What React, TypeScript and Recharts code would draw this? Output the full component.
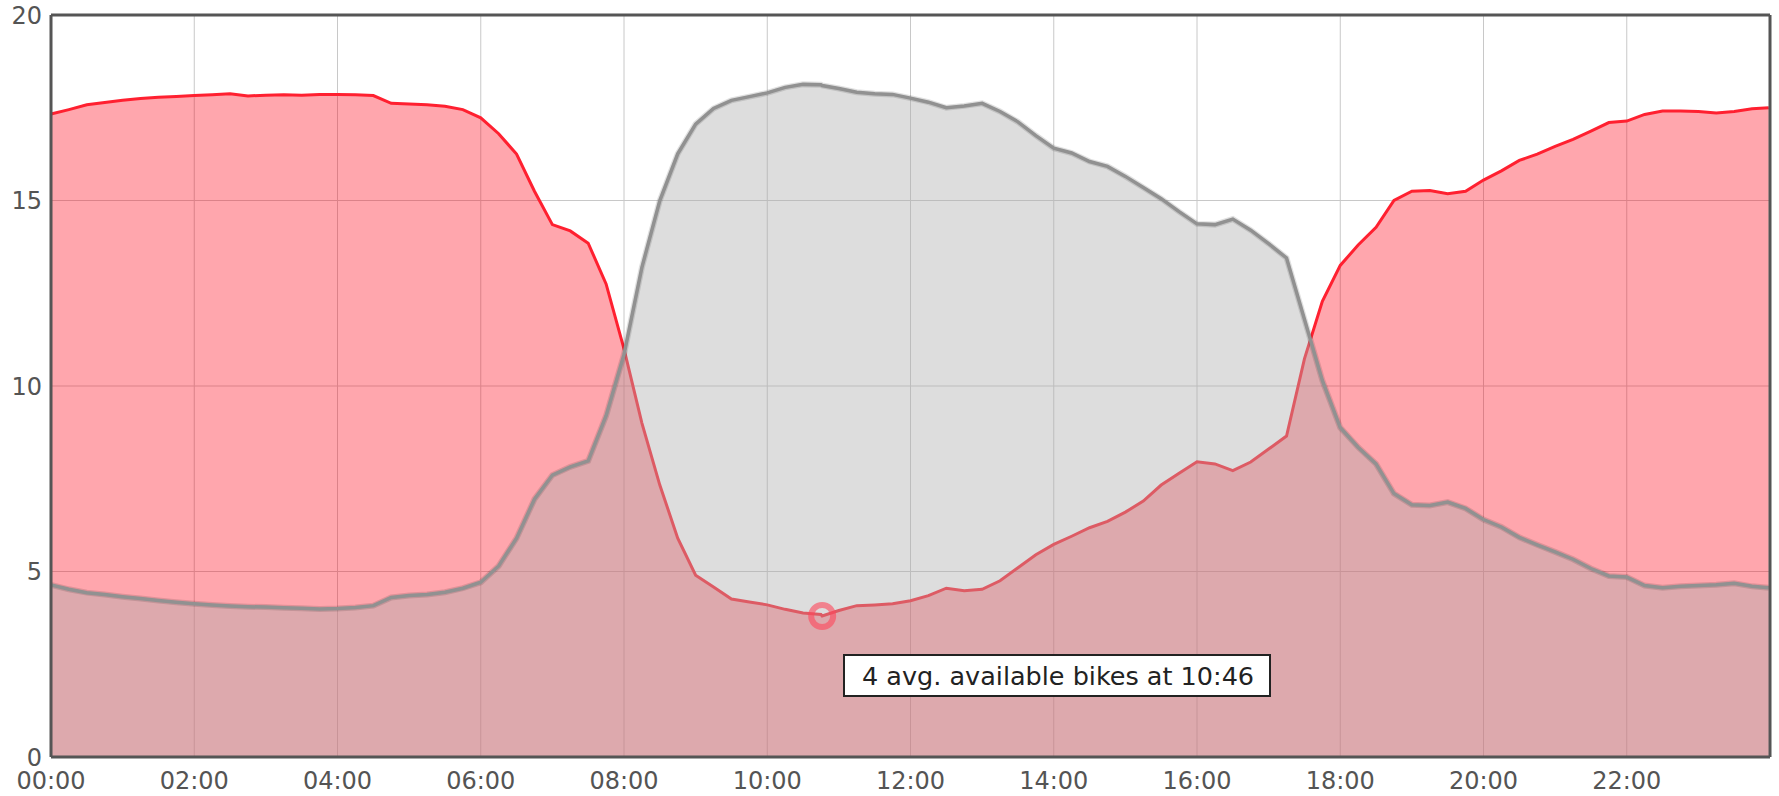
import { ComposedChart, Area, Line, XAxis, YAxis, CartesianGrid, Tooltip, ReferenceLine } from "recharts"

const times = [
  "00:00", "00:15", "00:30", "00:45", "01:00", "01:15", "01:30", "01:45",
  "02:00", "02:15", "02:30", "02:45", "03:00", "03:15", "03:30", "03:45",
  "04:00", "04:15", "04:30", "04:45", "05:00", "05:15", "05:30", "05:45",
  "06:00", "06:15", "06:30", "06:45", "07:00", "07:15", "07:30", "07:45",
  "08:00", "08:15", "08:30", "08:45", "09:00", "09:15", "09:30", "09:45",
  "10:00", "10:15", "10:30", "10:45", "10:46", "11:00", "11:15", "11:30", "11:45",
  "12:00", "12:15", "12:30", "12:45", "13:00", "13:15", "13:30", "13:45",
  "14:00", "14:15", "14:30", "14:45", "15:00", "15:15", "15:30", "15:45",
  "16:00", "16:15", "16:30", "16:45", "17:00", "17:15", "17:30", "17:45",
  "18:00", "18:15", "18:30", "18:45", "19:00", "19:15", "19:30", "19:45",
  "20:00", "20:15", "20:30", "20:45", "21:00", "21:15", "21:30", "21:45",
  "22:00", "22:15", "22:30", "22:45", "23:00", "23:15", "23:30", "23:45", "23:59",
]

// avg. available bikes (red)
const bikes = [
  17.33, 17.45, 17.58, 17.64, 17.7, 17.75, 17.78, 17.8,
  17.83, 17.85, 17.88, 17.82, 17.84, 17.85, 17.84, 17.86,
  17.86, 17.85, 17.83, 17.62, 17.6, 17.58, 17.54, 17.45,
  17.23, 16.8, 16.25, 15.25, 14.35, 14.18, 13.85, 12.75,
  11.0, 9.0, 7.33, 5.9, 4.9, 4.58, 4.26, 4.18,
  4.1, 3.98, 3.88, 3.84, 3.8, 3.95, 4.08, 4.1, 4.13,
  4.21, 4.35, 4.55, 4.48, 4.52, 4.75, 5.1, 5.45,
  5.73, 5.95, 6.18, 6.35, 6.6, 6.9, 7.33, 7.65,
  7.96, 7.9, 7.72, 7.95, 8.3, 8.65, 10.73, 12.28,
  13.25, 13.8, 14.28, 15.0, 15.25, 15.27, 15.18, 15.25,
  15.55, 15.8, 16.08, 16.25, 16.46, 16.65, 16.87, 17.1,
  17.14, 17.32, 17.41, 17.41, 17.4, 17.36, 17.4, 17.47, 17.5,
]

// avg. free docks (grey)
const docks = [
  4.64, 4.52, 4.43, 4.38, 4.32, 4.27, 4.22, 4.17,
  4.13, 4.1, 4.07, 4.05, 4.04, 4.02, 4.01, 3.99,
  4.0, 4.03, 4.08, 4.3, 4.35, 4.38, 4.44, 4.55,
  4.71, 5.15, 5.9, 6.95, 7.6, 7.82, 7.98, 9.2,
  10.85, 13.2, 15.0, 16.26, 17.06, 17.48, 17.7, 17.8,
  17.9, 18.05, 18.13, 18.12, 18.1, 18.02, 17.92, 17.88, 17.86,
  17.76, 17.65, 17.5, 17.55, 17.62, 17.4, 17.12, 16.75,
  16.41, 16.28, 16.05, 15.92, 15.65, 15.35, 15.05, 14.7,
  14.37, 14.35, 14.5, 14.2, 13.84, 13.45, 11.8, 10.15,
  8.88, 8.35, 7.9, 7.1, 6.8, 6.78, 6.87, 6.7,
  6.4, 6.2, 5.92, 5.72, 5.53, 5.33, 5.08, 4.88,
  4.85, 4.62, 4.56, 4.6, 4.62, 4.64, 4.68, 4.6, 4.56,
]

const xTickLabels = ["00:00", "02:00", "04:00", "06:00", "08:00", "10:00", "12:00", "14:00", "16:00", "18:00", "20:00", "22:00"]
const yTicks = [0, 5, 10, 15, 20]

const toMin = (t: string) => {
  const [h, m] = t.split(":").map(Number)
  return h * 60 + m
}
const pad = (n: number) => String(n).padStart(2, "0")
const fmt = (v: number) => `${pad(Math.floor(v / 60))}:${pad(v % 60)}`

const data = times.map((t, i) => ({ t: toMin(t), label: t, bikes: bikes[i], docks: docks[i] }))
const hoverIndex = times.indexOf("10:46")

const font = "'DejaVu Sans', Verdana, sans-serif"

function HoverBox({ active, payload }: any) {
  if (!active || !payload || !payload.length) return null
  const p = payload.find((x: any) => x.dataKey === "bikes") ?? payload[0]
  return (
    <div
      style={{
        background: "#fff",
        border: "2px solid #222",
        padding: "5px 15px 4px 17px",
        fontSize: 25.5,
        lineHeight: "30px",
        fontFamily: font,
        color: "#222",
        whiteSpace: "nowrap",
      }}
    >
      {Math.round(p.value)} avg. available bikes at {p.payload.label}
    </div>
  )
}

export default function App() {
  return (
    <div style={{ position: "absolute", left: 0, top: 0, background: "#fff" }}>
      <ComposedChart width={1779} height={796} data={data} margin={{ top: 15, right: 9, left: 0, bottom: 0 }}>
        <CartesianGrid stroke="#c8c8c8" strokeWidth={1} />
        <XAxis
          dataKey="t"
          type="number"
          domain={[0, 1440]}
          ticks={xTickLabels.map(toMin)}
          tickFormatter={fmt}
          interval={0}
          height={39}
          tickLine={false}
          tickSize={0}
          tickMargin={15}
          axisLine={{ stroke: "#555", strokeWidth: 3 }}
          tick={{ fill: "#545454", fontSize: 24, fontFamily: font }}
        />
        <YAxis
          domain={[0, 20]}
          ticks={yTicks}
          width={51}
          tickLine={false}
          tickSize={0}
          tickMargin={9}
          axisLine={{ stroke: "#555", strokeWidth: 3 }}
          tick={{ fill: "#545454", fontSize: 24, fontFamily: font }}
        />
        <Area
          dataKey="bikes"
          type="linear"
          stroke="#ff2030"
          strokeWidth={3}
          fill="rgb(255,0,20)"
          fillOpacity={0.35}
          isAnimationActive={false}
          activeDot={{ r: 11, fill: "none", stroke: "rgba(255,70,90,0.6)", strokeWidth: 6 }}
        />
        {/* soft shadow under the grey line */}
        <Line
          dataKey="docks"
          type="linear"
          stroke="rgba(0,0,0,0.12)"
          strokeWidth={6}
          dot={false}
          activeDot={false}
          legendType="none"
          isAnimationActive={false}
        />
        <Area
          dataKey="docks"
          type="linear"
          stroke="#a5a5a5"
          strokeWidth={3.5}
          fill="rgb(174,174,174)"
          fillOpacity={0.42}
          isAnimationActive={false}
          activeDot={false}
        />
        <ReferenceLine y={20} stroke="#555" strokeWidth={3} />
        <ReferenceLine x={1440} stroke="#555" strokeWidth={3} />
        <Tooltip
          content={<HoverBox />}
          defaultIndex={hoverIndex}
          active
          cursor={false}
          position={{ x: 843, y: 654 }}
          isAnimationActive={false}
          wrapperStyle={{ outline: "none" }}
        />
      </ComposedChart>
    </div>
  )
}
